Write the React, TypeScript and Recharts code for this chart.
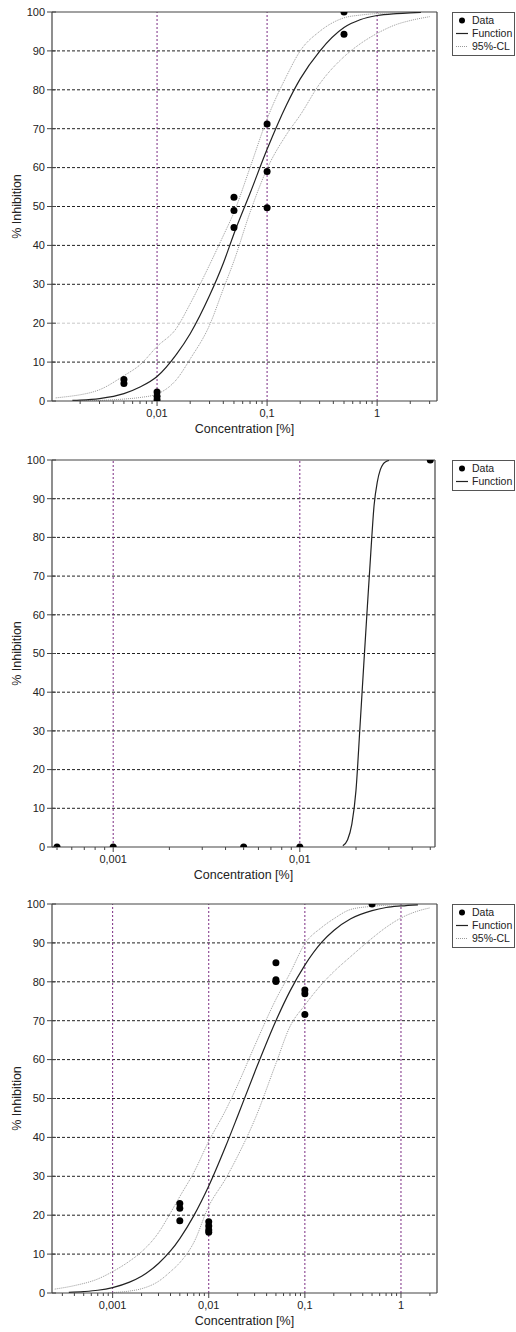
import React from 'react';
import { ComposedChart, Line, Scatter, XAxis, YAxis, ReferenceLine } from 'recharts';

const FONT = 'Arial, "Liberation Sans", Helvetica, sans-serif';
const GRID_PURPLE = '#7b2c83';
const AXIS = '#444';

// ---- chart 1 ----
const c1DataX = [0.005, 0.005, 0.01, 0.01, 0.01, 0.05, 0.05, 0.05, 0.1, 0.1, 0.1, 0.5, 0.5];
const c1DataY = [5.5, 4.5, 2.3, 1.2, 0.3, 52.4, 49.0, 44.6, 71.2, 59.0, 49.7, 100, 94.3];
const c1FitX = [0.0017, 0.002, 0.003, 0.005, 0.007, 0.01, 0.015, 0.02, 0.03, 0.04, 0.05, 0.07, 0.1, 0.15, 0.2, 0.3, 0.5, 0.7, 1, 1.5, 2, 2.5];
const c1FitY = [0.15, 0.23, 0.63, 1.9, 3.6, 6.3, 12.0, 17.3, 27.1, 35.4, 43.0, 53.4, 64.7, 76.1, 82.8, 89.9, 96.0, 98.0, 99.1, 99.6, 99.8, 99.9];
const c1UpperX = [0.0012, 0.0017, 0.002, 0.003, 0.005, 0.007, 0.01, 0.015, 0.02, 0.03, 0.04, 0.05, 0.07, 0.1, 0.15, 0.2, 0.3, 0.5, 0.7, 1, 1.5, 2, 2.5];
const c1UpperY = [0.8, 1.3, 1.6, 2.9, 6.5, 9.3, 14.0, 18.7, 25.0, 35.0, 42.5, 48.5, 60.0, 72.5, 83.5, 90.0, 95.0, 98.5, 99.2, 99.6, 99.8, 99.9, 100];
const c1LowerX = [0.002, 0.003, 0.005, 0.007, 0.01, 0.015, 0.02, 0.03, 0.04, 0.05, 0.07, 0.1, 0.15, 0.2, 0.3, 0.5, 0.7, 1, 1.5, 2, 3];
const c1LowerY = [0.05, 0.15, 0.5, 0.9, 1.8, 5.5, 10.8, 19.5, 28.8, 36.0, 48.5, 59.7, 68.5, 73.5, 81.5, 88.5, 91.8, 94.5, 96.8, 97.8, 98.8];
const c1Majors = [0.01, 0.1, 1];
const c1Minors = [0.002, 0.003, 0.004, 0.005, 0.006, 0.007, 0.008, 0.009, 0.02, 0.03, 0.04, 0.05, 0.06, 0.07, 0.08, 0.09, 0.2, 0.3, 0.4, 0.5, 0.6, 0.7, 0.8, 0.9, 2, 3];

// ---- chart 2 ----
const c2DataX = [0.0005, 0.001, 0.005, 0.01, 0.05];
const c2DataY = [0, 0, 0, 0, 100];
const c2FitX = [0.017, 0.018, 0.019, 0.02, 0.021, 0.022, 0.023, 0.024, 0.025, 0.026, 0.027, 0.028, 0.029, 0.03];
const c2FitY = [0.3, 1.8, 5.9, 14.7, 31, 47, 62, 76, 88.3, 94.3, 97.5, 99.0, 99.6, 99.9];
const c2Majors = [0.001, 0.01];
const c2Minors = [0.0005, 0.0006, 0.0007, 0.0008, 0.0009, 0.002, 0.003, 0.004, 0.005, 0.006, 0.007, 0.008, 0.009, 0.02, 0.03, 0.04, 0.05];

// ---- chart 3 ----
const c3DataX = [0.005, 0.005, 0.005, 0.01, 0.01, 0.01, 0.01, 0.05, 0.05, 0.05, 0.1, 0.1, 0.1, 0.5];
const c3DataY = [23.0, 21.8, 18.6, 18.3, 17.2, 16.2, 15.6, 84.9, 80.5, 80.1, 77.9, 76.9, 71.6, 100];
const c3FitX = [0.00035, 0.0005, 0.0007, 0.001, 0.0015, 0.002, 0.003, 0.004, 0.005, 0.007, 0.01, 0.015, 0.02, 0.03, 0.05, 0.07, 0.1, 0.15, 0.2, 0.3, 0.5, 0.7, 1, 1.5];
const c3FitY = [0.17, 0.37, 0.7, 1.4, 2.8, 4.3, 7.6, 10.8, 14.0, 19.9, 27.5, 37.7, 45.5, 56.7, 70.0, 77.6, 84.3, 90.2, 93.2, 96.2, 98.3, 99.1, 99.5, 99.8];
const c3UpperX = [0.00025, 0.0004, 0.0007, 0.001, 0.0015, 0.002, 0.003, 0.004, 0.005, 0.007, 0.01, 0.015, 0.02, 0.03, 0.05, 0.07, 0.1, 0.15, 0.2, 0.3, 0.5, 0.7, 1];
const c3UpperY = [1.0, 1.9, 3.6, 5.5, 8.2, 10.6, 15.5, 20.6, 24.8, 31.0, 39.0, 47.0, 53.5, 63.5, 75.5, 82.2, 89.8, 94.0, 96.2, 98.6, 99.4, 99.7, 99.9];
const c3LowerX = [0.0009, 0.001, 0.0015, 0.002, 0.003, 0.004, 0.005, 0.007, 0.01, 0.015, 0.02, 0.03, 0.05, 0.07, 0.1, 0.15, 0.2, 0.3, 0.5, 0.7, 1, 1.5, 2];
const c3LowerY = [0.0, 0.1, 0.5, 1.1, 3.0, 5.5, 7.8, 13.0, 22.3, 29.4, 35.2, 44.5, 59.0, 68.5, 74.0, 79.4, 82.6, 86.5, 91.2, 94.0, 96.4, 98.2, 99.0];
const c3Majors = [0.001, 0.01, 0.1, 1];
const c3Minors = [0.0003, 0.0004, 0.0005, 0.0006, 0.0007, 0.0008, 0.0009, 0.002, 0.003, 0.004, 0.005, 0.006, 0.007, 0.008, 0.009, 0.02, 0.03, 0.04, 0.05, 0.06, 0.07, 0.08, 0.09, 0.2, 0.3, 0.4, 0.5, 0.6, 0.7, 0.8, 0.9, 2];

const yTicks = [0, 10, 20, 30, 40, 50, 60, 70, 80, 90, 100];
const yGrid = [10, 20, 30, 40, 50, 60, 70, 80, 90];

const toPts = (xs: number[], ys: number[]) => xs.map((x, i) => ({ x, y: ys[i] }));
const fmt = (v: number) => String(v).replace('.', ',');

const XTick = ({ x, y, payload, majors }: any) => {
  const major = majors.includes(payload.value);
  return (
    <g>
      <line x1={x} x2={x} y1={y} y2={y + (major ? 5 : 3)} stroke={AXIS} />
      {major && (
        <text x={x} y={y + 16} textAnchor="middle" fontSize={11} fill="#222" fontFamily={FONT}>
          {fmt(payload.value)}
        </text>
      )}
    </g>
  );
};

const YTick = ({ x, y, payload }: any) => (
  <g>
    <line x1={x - 5} x2={x + 4} y1={y} y2={y} stroke={AXIS} />
    <text x={x - 7} y={y} dy="0.35em" textAnchor="end" fontSize={11} fill="#222" fontFamily={FONT}>
      {payload.value}
    </text>
  </g>
);

const Dot = (p: any) => <circle cx={p.cx} cy={p.cy} r={3.5} fill="#000" />;

function LegendBox({ top, withCL }: { top: number; withCL: boolean }) {
  const items = withCL ? ['Data', 'Function', '95%-CL'] : ['Data', 'Function'];
  return (
    <div
      style={{
        position: 'absolute', left: 452, top, width: 63, border: '1px solid #555',
        boxSizing: 'border-box', padding: '1px 0 2px 0', fontFamily: FONT, fontSize: 10.5, color: '#222',
        whiteSpace: 'nowrap', overflow: 'hidden',
      }}
    >
      {items.map((name) => (
        <div key={name} style={{ height: 13, display: 'flex', alignItems: 'center' }}>
          <svg width={17} height={13} style={{ flex: 'none' }}>
            {name === 'Data' && <circle cx={9} cy={6.5} r={3} fill="#000" />}
            {name === 'Function' && <line x1={3} x2={15} y1={6.5} y2={6.5} stroke="#222" strokeWidth={1.2} />}
            {name === '95%-CL' && <line x1={3} x2={15} y1={6.5} y2={6.5} stroke="#999" strokeDasharray="1 1" />}
          </svg>
          <span style={{ marginLeft: 2, lineHeight: '13px' }}>{name}</span>
        </div>
      ))}
    </div>
  );
}

type ChartProps = {
  top: number;
  plotH: number;
  plotLeft: number;
  plotRight: number;
  domain: [number, number];
  majors: number[];
  minors: number[];
  data: { x: number; y: number }[];
  fit: { x: number; y: number }[];
  upper?: { x: number; y: number }[];
  lower?: { x: number; y: number }[];
  grey20?: boolean;
};

function DoseResponse({ top, plotH, plotLeft, plotRight, domain, majors, minors, data, fit, upper, lower, grey20 }: ChartProps) {
  const width = 516;
  const mTop = 12;
  const height = mTop + plotH + 36;
  const ticks = [...majors, ...minors].sort((a, b) => a - b);
  return (
    <div style={{ position: 'absolute', left: 0, top }}>
      <ComposedChart width={width} height={height} margin={{ top: mTop, right: width - plotRight, bottom: 0, left: 0 }}>
        <XAxis
          type="number"
          dataKey="x"
          scale="log"
          domain={domain}
          allowDataOverflow
          ticks={ticks}
          interval={0}
          tickSize={0}
          tickMargin={0}
          tickLine={false}
          height={36}
          axisLine={{ stroke: AXIS, strokeWidth: 1.2 }}
          tick={(p: any) => <XTick {...p} majors={majors} />}
          label={{
            content: () => (
              <text x={(plotLeft + plotRight) / 2} y={mTop + plotH + 32} textAnchor="middle" fontSize={12.5} fill="#222" fontFamily={FONT}>
                Concentration [%]
              </text>
            ),
          }}
        />
        <YAxis
          type="number"
          dataKey="y"
          domain={[0, 100]}
          allowDataOverflow
          ticks={yTicks}
          interval={0}
          width={plotLeft}
          tickSize={0}
          tickMargin={0}
          tickLine={false}
          axisLine={{ stroke: AXIS, strokeWidth: 1.2 }}
          tick={(p: any) => <YTick {...p} />}
          label={{
            content: () => (
              <text
                x={17}
                y={mTop + plotH / 2}
                transform={`rotate(-90 17 ${mTop + plotH / 2})`}
                dy="0.35em"
                textAnchor="middle"
                fontSize={12.5}
                fill="#222"
                fontFamily={FONT}
              >
                % Inhibition
              </text>
            ),
          }}
        />
        {yGrid.map((v) => (
          <ReferenceLine key={`h${v}`} y={v} stroke={grey20 && v === 20 ? '#c8c8c8' : '#222'} strokeDasharray="3 2" />
        ))}
        {majors.map((v) => (
          <ReferenceLine key={`v${v}`} x={v} stroke={GRID_PURPLE} strokeDasharray="2 2" />
        ))}
        <ReferenceLine y={100} stroke={AXIS} strokeWidth={1.2} />
        <ReferenceLine x={domain[1]} stroke={AXIS} strokeWidth={1.2} />
        {upper && (
          <Line data={upper} dataKey="y" type="monotone" stroke="#999" strokeWidth={1} strokeDasharray="1 1" dot={false} isAnimationActive={false} />
        )}
        {lower && (
          <Line data={lower} dataKey="y" type="monotone" stroke="#999" strokeWidth={1} strokeDasharray="1 1" dot={false} isAnimationActive={false} />
        )}
        <Line data={fit} dataKey="y" type="monotone" stroke="#222" strokeWidth={1.2} dot={false} isAnimationActive={false} />
        <Scatter data={data} dataKey="y" shape={Dot} isAnimationActive={false} />
      </ComposedChart>
    </div>
  );
}

export default function App() {
  return (
    <div style={{ position: 'absolute', left: 0, top: 0, width: 516, height: 1332, background: '#fff' }}>
      <DoseResponse
        top={0}
        plotH={389}
        plotLeft={52}
        plotRight={437}
        domain={[0.00111, 3.5]}
        majors={c1Majors}
        minors={c1Minors}
        data={toPts(c1DataX, c1DataY)}
        fit={toPts(c1FitX, c1FitY)}
        upper={toPts(c1UpperX, c1UpperY)}
        lower={toPts(c1LowerX, c1LowerY)}
        grey20
      />
      <LegendBox top={12} withCL />
      <DoseResponse
        top={448}
        plotH={387}
        plotLeft={52}
        plotRight={435}
        domain={[0.00047, 0.053]}
        majors={c2Majors}
        minors={c2Minors}
        data={toPts(c2DataX, c2DataY)}
        fit={toPts(c2FitX, c2FitY)}
      />
      <LegendBox top={460} withCL={false} />
      <DoseResponse
        top={892}
        plotH={389}
        plotLeft={52}
        plotRight={437}
        domain={[0.000234, 2.37]}
        majors={c3Majors}
        minors={c3Minors}
        data={toPts(c3DataX, c3DataY)}
        fit={toPts(c3FitX, c3FitY)}
        upper={toPts(c3UpperX, c3UpperY)}
        lower={toPts(c3LowerX, c3LowerY)}
      />
      <LegendBox top={904} withCL />
    </div>
  );
}
